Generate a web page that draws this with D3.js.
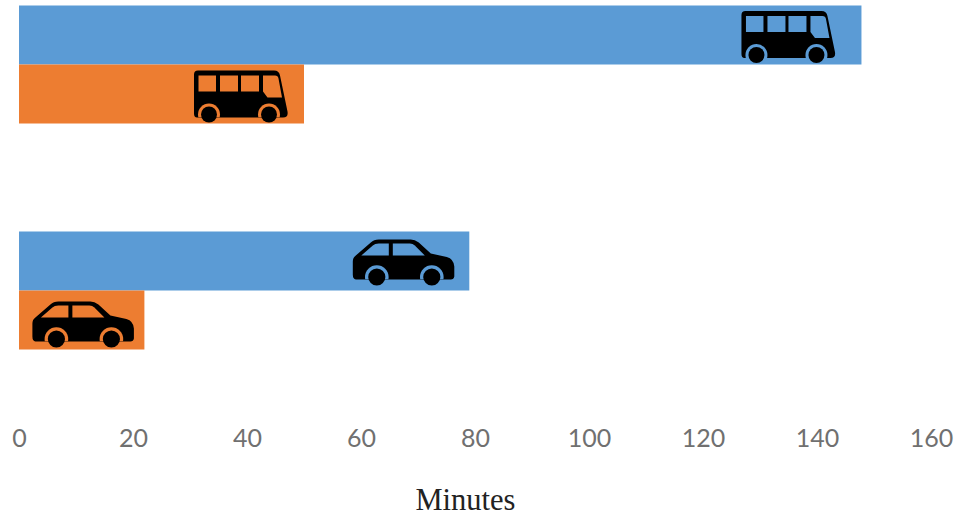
<!DOCTYPE html>
<html>
<head>
<meta charset="utf-8">
<script src="https://cdn.jsdelivr.net/npm/d3@7"></script>
<style>
  html, body { margin: 0; padding: 0; background: #fff; }
  svg { display: block; }
  .tick text { font-family: Lato, "Open Sans", sans-serif; fill: #707070; }
</style>
</head>
<body>
<svg id="chart" width="969" height="516"></svg>
<script>
// Travel time in minutes per mode of transport
const modes = ["Bus", "Car"];
const seriesNames = ["Longer", "Shorter"];
const longerTrip = [147.8, 79];
const shorterTrip = [50, 22];
const xTicks = [0, 20, 40, 60, 80, 100, 120, 140, 160];
const axisTitle = "Minutes";

const barColors = { Longer: "#5b9bd5", Shorter: "#ed7d31" };
const seriesValues = { Longer: longerTrip, Shorter: shorterTrip };

const svg = d3.select("#chart");

const x = d3.scaleLinear().domain([0, 160]).range([19, 931]);
const y0 = d3.scaleBand().domain(modes).range([-48.5, 403.5]).paddingInner(0).paddingOuter(0);
const y1 = d3.scaleBand().domain(seriesNames)
  .range([y0.bandwidth() / 2 - 59, y0.bandwidth() / 2 + 59]);

// Vehicle glyphs, drawn in their own local units
const vehicles = {
  Bus: {
    width: 94,
    body: "M4,0 H80 Q85,0 86,5 L93.5,41 Q94.5,47 89,47 H3 Q0,47 0,43 V4 Q0,0 4,0 Z",
    windows: [
      "M4.5,5 H22 V21 H4.5 Z",
      "M26,5 H44 V21 H26 Z",
      "M47,5 H65 V21 H47 Z",
      "M69,5 H81 Q84,5 84.5,8 L88,27 H73.5 L69,21 Z"
    ],
    wheels: [15, 75],
    wheelY: 44,
    wheelR: 8,
    ringR: 11
  },
  Car: {
    width: 102,
    body: "M3,16 L18,3 Q21,0 26,0 H58 Q62,0 66,3 L78,14 L94,17.5 Q101,19.5 101.5,27 V37 Q101,40 98,40 H3 Q0,39.5 0,35 V22 Q0,18 3,16 Z",
    windows: [
      "M8.5,16 L20,6 Q22,4 26,4 H36 V16 Z",
      "M40,4 H57 Q60,4 62,6 L72,16 H40 Z"
    ],
    wheels: [24, 79],
    wheelY: 37.5,
    wheelR: 8.6,
    ringR: 11.8
  }
};

// Where each glyph sits relative to its bar: gap to the bar's end, and its top edge
const glyphInset = { Bus: { Longer: 26, Shorter: 16 }, Car: { Longer: 14.5, Shorter: 10 } };
const glyphTop = { Bus: { Longer: -24, Shorter: -23.5 }, Car: { Longer: -21.5, Shorter: -18.5 } };

const rows = modes.flatMap((mode, i) =>
  seriesNames.map(name => ({ mode, name, value: seriesValues[name][i], id: `${mode}-${name}` }))
);

const groups = svg.selectAll("g.bar")
  .data(rows)
  .join("g")
  .attr("class", "bar")
  .attr("transform", d => `translate(0,${y0(d.mode) + y1(d.name)})`);

groups.append("rect")
  .attr("x", x(0))
  .attr("y", 0)
  .attr("width", d => x(d.value) - x(0))
  .attr("height", y1.bandwidth())
  .attr("fill", d => barColors[d.name]);

const glyphs = groups.append("g")
  .attr("transform", d => {
    const left = x(d.value) - glyphInset[d.mode][d.name] - vehicles[d.mode].width;
    return `translate(${left},${y1.bandwidth() / 2 + glyphTop[d.mode][d.name]})`;
  });

// The wheel arches are cut out of the body only, so they are clipped to its outline
glyphs.append("clipPath")
  .attr("id", d => `clip-${d.id}`)
  .append("path")
  .attr("d", d => vehicles[d.mode].body);

glyphs.append("path")
  .attr("d", d => vehicles[d.mode].body)
  .attr("fill", "#000");

glyphs.selectAll("path.window")
  .data(d => vehicles[d.mode].windows.map(p => ({ p, name: d.name })))
  .join("path")
  .attr("class", "window")
  .attr("d", w => w.p)
  .attr("fill", w => barColors[w.name]);

glyphs.append("g")
  .attr("clip-path", d => `url(#clip-${d.id})`)
  .selectAll("circle")
  .data(d => vehicles[d.mode].wheels.map(cx => ({ cx, v: vehicles[d.mode], name: d.name })))
  .join("circle")
  .attr("cx", w => w.cx)
  .attr("cy", w => w.v.wheelY)
  .attr("r", w => w.v.ringR)
  .attr("fill", w => barColors[w.name]);

glyphs.selectAll("circle.wheel")
  .data(d => vehicles[d.mode].wheels.map(cx => ({ cx, v: vehicles[d.mode] })))
  .join("circle")
  .attr("class", "wheel")
  .attr("cx", w => w.cx)
  .attr("cy", w => w.v.wheelY)
  .attr("r", w => w.v.wheelR)
  .attr("fill", "#000");

// Horizontal axis: labels only, no line or tick marks
const axis = svg.append("g")
  .attr("transform", "translate(0,429)")
  .call(d3.axisBottom(x).tickValues(xTicks).tickSize(0).tickPadding(0).tickFormat(d3.format("d")));
axis.select(".domain").remove();
axis.selectAll("text").attr("font-size", 25).attr("dy", "0.71em");

svg.append("text")
  .attr("x", x(80) - 9.5)
  .attr("y", 510)
  .attr("text-anchor", "middle")
  .attr("font-family", '"Liberation Serif", serif')
  .attr("font-size", 30.5)
  .attr("fill", "#222")
  .text(axisTitle);
</script>
</body>
</html>
